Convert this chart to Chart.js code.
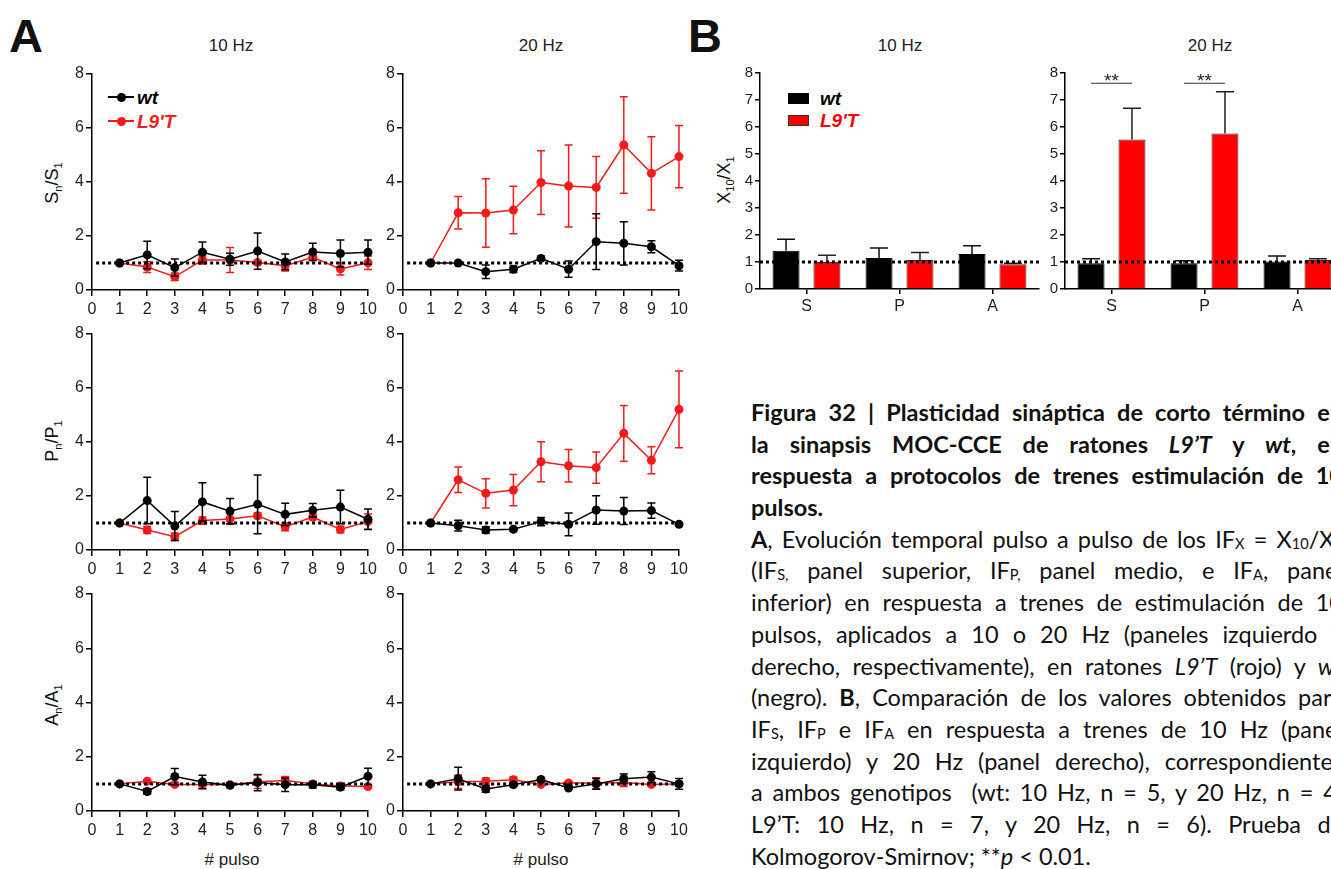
<!DOCTYPE html>
<html>
<head>
<meta charset="utf-8">
<script src="https://cdn.jsdelivr.net/npm/chart.js@4.4.0/dist/chart.umd.min.js"></script>
<style>
html, body { margin: 0; padding: 0; background: #fff; }
body { width: 1331px; height: 869px; overflow: hidden; position: relative; font-family: "Liberation Sans", Arial, sans-serif; color: #111; }
canvas { position: absolute; }
.lbl { position: absolute; white-space: nowrap; line-height: 1; transform: translate(-50%, -50%); }
.ytitle { position: absolute; white-space: nowrap; line-height: 1; font-size: 18px; transform: translate(-50%, -50%) rotate(-90deg); }
.ytitle sub { font-size: 11px; vertical-align: -4px; }
.panel { font-weight: bold; font-size: 47px; }
.hz { font-size: 17px; color: #222; }
.legtxt { position: absolute; white-space: nowrap; line-height: 1; font-size: 19px; font-weight: bold; font-style: italic; transform: translateY(-50%); }
.abs { position: absolute; }
#caption { position: absolute; left: 751px; top: 397px; width: 592px; font-family: Lato, "Open Sans", sans-serif; font-size: 23.5px; color: #111; }
.cl { height: 31.7px; line-height: 31.7px; text-align: justify; text-align-last: justify; }
.cl.last { text-align-last: left; }
.cl sub { font-size: 0.62em; vertical-align: -0.05em; }
</style>
</head>
<body>

<div class="lbl panel" style="left:26px;top:35px">A</div>
<div class="lbl panel" style="left:705px;top:35px">B</div>
<div class="lbl hz" style="left:231px;top:45px">10 Hz</div>
<div class="lbl hz" style="left:541px;top:45px">20 Hz</div>
<div class="lbl hz" style="left:900px;top:45px">10 Hz</div>
<div class="lbl hz" style="left:1210px;top:45px">20 Hz</div>

<div class="ytitle" style="left:53px;top:183px">S<sub>n</sub>/S<sub>1</sub></div>
<div class="ytitle" style="left:53px;top:441px">P<sub>n</sub>/P<sub>1</sub></div>
<div class="ytitle" style="left:53px;top:705px">A<sub>n</sub>/A<sub>1</sub></div>
<div class="ytitle" style="left:725px;top:180px">X<sub>10</sub>/X<sub>1</sub></div>

<div class="lbl hz" style="left:232px;top:859px">#&nbsp;pulso</div>
<div class="lbl hz" style="left:541px;top:859px">#&nbsp;pulso</div>

<!-- legend A -->
<div class="abs" style="left:108px;top:96px;width:26px;height:2px;background:#000"></div>
<div class="abs" style="left:116.5px;top:92.5px;width:9px;height:9px;border-radius:50%;background:#000"></div>
<div class="legtxt" style="left:137px;top:97px;color:#000">wt</div>
<div class="abs" style="left:108px;top:120px;width:26px;height:2px;background:#f51a1a"></div>
<div class="abs" style="left:116.5px;top:116.5px;width:9px;height:9px;border-radius:50%;background:#f51a1a"></div>
<div class="legtxt" style="left:137px;top:121px;color:#f51a1a">L9'T</div>

<!-- legend B -->
<div class="abs" style="left:788px;top:93px;width:21px;height:11px;background:#000"></div>
<div class="legtxt" style="left:820px;top:98px;color:#000">wt</div>
<div class="abs" style="left:788px;top:115px;width:19px;height:9px;background:#ff0000;border:1px solid #333"></div>
<div class="legtxt" style="left:820px;top:120px;color:#ff0000">L9'T</div>

<canvas id="aS10"></canvas>
<canvas id="aS20"></canvas>
<canvas id="aP10"></canvas>
<canvas id="aP20"></canvas>
<canvas id="aA10"></canvas>
<canvas id="aA20"></canvas>
<canvas id="b10"></canvas>
<canvas id="b20"></canvas>

<div id="caption">
<div class="cl"><b>Figura 32 | Plasticidad sináptica de corto término en</b></div>
<div class="cl"><b>la sinapsis MOC-CCE de ratones <i>L9’T</i> y <i>wt</i>, en</b></div>
<div class="cl"><b>respuesta a protocolos de trenes estimulación de 10</b></div>
<div class="cl last"><b>pulsos.</b></div>
<div class="cl"><b>A</b>, Evolución temporal pulso a pulso de los IF<sub>X</sub> = X<sub>10</sub>/X<sub>1</sub></div>
<div class="cl">(IF<sub>S,</sub> panel superior, IF<sub>P,</sub> panel medio, e IF<sub>A</sub>, panel</div>
<div class="cl">inferior) en respuesta a trenes de estimulación de 10</div>
<div class="cl">pulsos, aplicados a 10 o 20 Hz (paneles izquierdo y</div>
<div class="cl">derecho, respectivamente), en ratones <i>L9’T</i> (rojo) y <i>wt</i></div>
<div class="cl">(negro). <b>B</b>, Comparación de los valores obtenidos para</div>
<div class="cl">IF<sub>S</sub>, IF<sub>P</sub> e IF<sub>A</sub> en respuesta a trenes de 10 Hz (panel</div>
<div class="cl">izquierdo) y 20 Hz (panel derecho), correspondientes</div>
<div class="cl">a ambos genotipos &nbsp;(wt: 10 Hz, n = 5, y 20 Hz, n = 4;</div>
<div class="cl">L9’T: 10 Hz, n = 7, y 20 Hz, n = 6). Prueba de</div>
<div class="cl last">Kolmogorov-Smirnov; **<i>p</i> &lt; 0.01.</div>
</div>

<script>
// Panel A: pulse-by-pulse ratios (mean and SEM)
const pulses = [1, 2, 3, 4, 5, 6, 7, 8, 9, 10];

const wtS10 = [1.00, 1.30, 0.83, 1.40, 1.14, 1.44, 1.04, 1.41, 1.35, 1.40];
const wtS10Err = [0.04, 0.51, 0.32, 0.38, 0.22, 0.67, 0.29, 0.32, 0.50, 0.45];
const l9S10 = [1.00, 0.85, 0.49, 1.11, 1.11, 1.02, 0.90, 1.21, 0.78, 1.01];
const l9S10Err = [0.04, 0.20, 0.14, 0.15, 0.46, 0.06, 0.20, 0.10, 0.22, 0.25];

const wtS20 = [1.00, 1.00, 0.68, 0.77, 1.17, 0.77, 1.79, 1.73, 1.60, 0.90];
const wtS20Err = [0.03, 0.05, 0.25, 0.12, 0.08, 0.30, 1.03, 0.80, 0.22, 0.20];
const l9S20 = [1.00, 2.86, 2.85, 2.96, 3.98, 3.85, 3.80, 5.37, 4.32, 4.94];
const l9S20Err = [0.03, 0.60, 1.27, 0.88, 1.18, 1.52, 1.14, 1.79, 1.36, 1.15];

const wtP10 = [1.00, 1.83, 0.89, 1.78, 1.44, 1.69, 1.32, 1.47, 1.59, 1.14];
const wtP10Err = [0.04, 0.86, 0.54, 0.71, 0.47, 1.09, 0.41, 0.25, 0.62, 0.38];
const l9P10 = [1.00, 0.74, 0.49, 1.09, 1.15, 1.27, 0.86, 1.22, 0.76, 1.05];
const l9P10Err = [0.04, 0.13, 0.14, 0.13, 0.20, 0.10, 0.15, 0.10, 0.12, 0.28];

const wtP20 = [1.00, 0.90, 0.74, 0.77, 1.05, 0.95, 1.48, 1.44, 1.46, 0.95];
const wtP20Err = [0.03, 0.20, 0.12, 0.05, 0.15, 0.42, 0.53, 0.50, 0.28, 0.05];
const l9P20 = [1.00, 2.60, 2.10, 2.22, 3.27, 3.12, 3.05, 4.32, 3.32, 5.21];
const l9P20Err = [0.03, 0.47, 0.54, 0.58, 0.74, 0.60, 0.58, 1.03, 0.50, 1.42];

const wtA10 = [1.00, 0.72, 1.27, 1.07, 0.95, 1.05, 0.97, 0.97, 0.88, 1.28];
const wtA10Err = [0.04, 0.10, 0.30, 0.25, 0.08, 0.30, 0.25, 0.12, 0.10, 0.30];
const l9A10 = [1.00, 1.10, 0.98, 0.98, 0.97, 1.08, 1.12, 1.00, 0.92, 0.90];
const l9A10Err = [0.03, 0.05, 0.05, 0.15, 0.05, 0.25, 0.15, 0.08, 0.08, 0.05];

const wtA20 = [1.00, 1.19, 0.81, 0.97, 1.16, 0.85, 1.00, 1.19, 1.25, 1.00];
const wtA20Err = [0.03, 0.42, 0.12, 0.05, 0.05, 0.05, 0.20, 0.17, 0.20, 0.20];
const l9A20 = [1.00, 1.08, 1.10, 1.15, 0.98, 1.03, 1.03, 1.05, 0.98, 1.00];
const l9A20Err = [0.03, 0.25, 0.12, 0.10, 0.05, 0.08, 0.20, 0.15, 0.05, 0.08];

// Panel B: X10/X1 per parameter
const params = ['S', 'P', 'A'];
const wtB10 = [1.42, 1.15, 1.30];
const wtB10Err = [0.42, 0.37, 0.30];
const l9B10 = [1.00, 1.07, 0.92];
const l9B10Err = [0.25, 0.28, 0.03];
const wtB20 = [0.95, 0.95, 1.02];
const wtB20Err = [0.17, 0.10, 0.20];
const l9B20 = [5.54, 5.76, 1.07];
const l9B20Err = [1.15, 1.55, 0.05];
const sigB20 = ['**', '**', ''];

const BLACK = '#000';
const RED = '#f51a1a';
const BAR_RED = '#ff0000';

Chart.defaults.font.family = '"Liberation Sans", Arial, sans-serif';
Chart.defaults.color = '#222';

// error bars drawn under each dataset
const errorBars = {
    id: 'errorBars',
    beforeDatasetDraw(chart, args) {
        const ds = chart.data.datasets[args.index];
        if (!ds.errors) return;
        const y = chart.scales.y;
        const ctx = chart.ctx;
        ctx.save();
        ctx.strokeStyle = ds.errColor || ds.borderColor;
        ctx.lineWidth = 1.5;
        args.meta.data.forEach((el, i) => {
            const v = args.meta.controller.getParsed(i).y;
            const e = ds.errors[i];
            const top = y.getPixelForValue(v + e);
            const bot = ds.upOnly ? y.getPixelForValue(v) : y.getPixelForValue(v - e);
            const hw = ds.capHalf || 4;
            ctx.beginPath();
            ctx.moveTo(el.x, top); ctx.lineTo(el.x, bot);
            ctx.moveTo(el.x - hw, top); ctx.lineTo(el.x + hw, top);
            if (!ds.upOnly) { ctx.moveTo(el.x - hw, bot); ctx.lineTo(el.x + hw, bot); }
            ctx.stroke();
        });
        ctx.restore();
    }
};

// dotted line at ratio = 1
const refLine = {
    id: 'refLine',
    afterDatasetsDraw(chart, args, opts) {
        const { ctx, chartArea, scales } = chart;
        const yy = scales.y.getPixelForValue(1);
        const x0 = opts.from != null ? scales.x.getPixelForValue(opts.from) : chartArea.left;
        const x1 = opts.to != null ? scales.x.getPixelForValue(opts.to) : chartArea.right;
        ctx.save();
        ctx.setLineDash([3, 3]);
        ctx.lineWidth = 3;
        ctx.strokeStyle = '#000';
        ctx.beginPath();
        ctx.moveTo(x0, yy); ctx.lineTo(x1, yy);
        ctx.stroke();
        ctx.restore();
    }
};

// significance brackets over bar pairs
const sigMarks = {
    id: 'sigMarks',
    afterDatasetsDraw(chart, args, opts) {
        if (!opts.labels) return;
        const { ctx } = chart;
        const m0 = chart.getDatasetMeta(0), m1 = chart.getDatasetMeta(1);
        const yy = chart.scales.y.getPixelForValue(opts.level);
        ctx.save();
        ctx.strokeStyle = '#333';
        ctx.fillStyle = '#222';
        ctx.lineWidth = 1;
        ctx.font = '19px "Liberation Sans", Arial, sans-serif';
        ctx.textAlign = 'center';
        ctx.textBaseline = 'alphabetic';
        opts.labels.forEach((t, i) => {
            if (!t) return;
            const a = m0.data[i].x, b = m1.data[i].x;
            ctx.beginPath();
            ctx.moveTo(a, yy); ctx.lineTo(b, yy);
            ctx.stroke();
            ctx.fillText(t, (a + b) / 2, yy + 4);
        });
        ctx.restore();
    }
};

function place(id, area, m) {
    const c = document.getElementById(id);
    const w = area[2] - area[0] + m.l + m.r;
    const h = area[3] - area[1] + m.t + m.b;
    c.width = w; c.height = h;
    c.style.width = w + 'px'; c.style.height = h + 'px';
    c.style.left = (area[0] - m.l) + 'px';
    c.style.top = (area[1] - m.t) + 'px';
    return c;
}

const axisLine = { color: '#000', width: 1.5 };
const marginA = { l: 40, t: 12, r: 16, b: 30 };
const marginB = { l: 36, t: 12, r: 12, b: 30 };

function pulseChart(id, area, wt, wtErr, l9, l9Err) {
    const c = place(id, area, marginA);
    const pts = arr => arr.map((v, i) => ({ x: pulses[i], y: v }));
    return new Chart(c, {
        type: 'line',
        data: {
            datasets: [
                { label: 'wt', data: pts(wt), errors: wtErr, borderColor: BLACK, backgroundColor: BLACK,
                  pointRadius: 4.5, pointBorderWidth: 0, borderWidth: 1.5, clip: false },
                { label: "L9'T", data: pts(l9), errors: l9Err, borderColor: RED, backgroundColor: RED,
                  pointRadius: 4.5, pointBorderWidth: 0, borderWidth: 1.5, clip: false }
            ]
        },
        options: {
            responsive: false, animation: false, devicePixelRatio: 1,
            layout: { padding: { top: marginA.t, right: marginA.r, left: 0, bottom: 0 } },
            plugins: { legend: { display: false }, tooltip: { enabled: false }, refLine: { from: 0.15, to: 10 } },
            scales: {
                x: {
                    type: 'linear', min: 0, max: 10,
                    ticks: { stepSize: 1, font: { size: 16 }, padding: 4, maxRotation: 0, autoSkip: false },
                    grid: { drawOnChartArea: false, tickLength: 6, color: '#000', lineWidth: 1.5 },
                    border: axisLine,
                    afterFit: s => { s.height = marginA.b; }
                },
                y: {
                    min: 0, max: 8,
                    ticks: { stepSize: 2, font: { size: 16 }, padding: 2 },
                    grid: { drawOnChartArea: false, tickLength: 6, color: '#000', lineWidth: 1.5 },
                    border: axisLine,
                    afterFit: s => { s.width = marginA.l; }
                }
            }
        },
        plugins: [errorBars, refLine]
    });
}

function ratioChart(id, area, wt, wtErr, l9, l9Err, sig) {
    const c = place(id, area, marginB);
    return new Chart(c, {
        type: 'bar',
        data: {
            labels: params,
            datasets: [
                { label: 'wt', data: wt, errors: wtErr, upOnly: true, capHalf: 9, errColor: '#111',
                  backgroundColor: BLACK, borderColor: BLACK, borderWidth: 1,
                  categoryPercentage: 0.88, barPercentage: 0.66 },
                { label: "L9'T", data: l9, errors: l9Err, upOnly: true, capHalf: 9, errColor: '#222',
                  backgroundColor: BAR_RED, borderColor: '#333', borderWidth: 1,
                  categoryPercentage: 0.88, barPercentage: 0.66 }
            ]
        },
        options: {
            responsive: false, animation: false, devicePixelRatio: 1,
            layout: { padding: { top: marginB.t, right: marginB.r, left: 0, bottom: 0 } },
            plugins: { legend: { display: false }, tooltip: { enabled: false }, refLine: {},
                       sigMarks: { labels: sig, level: 7.62 } },
            scales: {
                x: {
                    ticks: { font: { size: 16 }, padding: 3 },
                    grid: { drawOnChartArea: false, offset: false, tickLength: 5, color: '#000', lineWidth: 1.5 },
                    border: axisLine,
                    afterFit: s => { s.height = marginB.b; }
                },
                y: {
                    min: 0, max: 8,
                    ticks: { stepSize: 1, font: { size: 15 }, padding: 2 },
                    grid: { drawOnChartArea: false, tickLength: 5, color: '#000', lineWidth: 1.5 },
                    border: axisLine,
                    afterFit: s => { s.width = marginB.l; }
                }
            }
        },
        plugins: [errorBars, refLine, sigMarks]
    });
}

pulseChart('aS10', [92, 74, 368, 290], wtS10, wtS10Err, l9S10, l9S10Err);
pulseChart('aS20', [403, 74, 679, 290], wtS20, wtS20Err, l9S20, l9S20Err);
pulseChart('aP10', [92, 334, 368, 550], wtP10, wtP10Err, l9P10, l9P10Err);
pulseChart('aP20', [403, 334, 679, 550], wtP20, wtP20Err, l9P20, l9P20Err);
pulseChart('aA10', [92, 594, 368, 811], wtA10, wtA10Err, l9A10, l9A10Err);
pulseChart('aA20', [403, 594, 679, 811], wtA20, wtA20Err, l9A20, l9A20Err);

ratioChart('b10', [760, 73, 1039, 289], wtB10, wtB10Err, l9B10, l9B10Err, null);
ratioChart('b20', [1065, 73, 1344, 289], wtB20, wtB20Err, l9B20, l9B20Err, sigB20);
</script>
</body>
</html>
